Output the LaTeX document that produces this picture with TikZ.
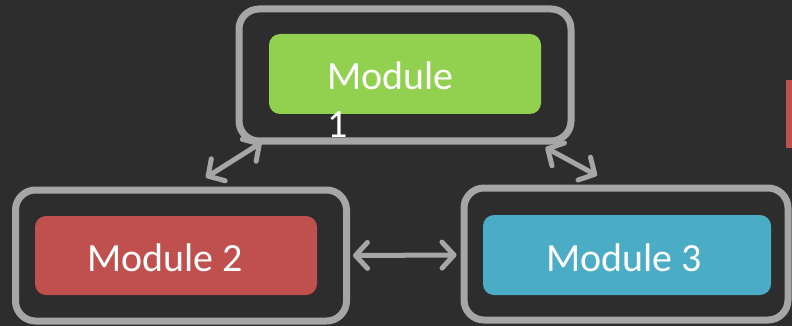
\documentclass[tikz,border=0pt]{standalone}
\usepackage{fontspec}
\setmainfont{Carlito}
\usetikzlibrary{arrows.meta}
\definecolor{board}{HTML}{2D2D2D}
\definecolor{frame}{HTML}{A6A6A6}
\definecolor{mgreen}{HTML}{92D050}
\definecolor{mred}{HTML}{C0504D}
\definecolor{mblue}{HTML}{4BACC6}
\tikzset{
  framebox/.style={draw=frame, line width=7pt, rounded corners=20pt, inner sep=0pt},
  modbox/.style={rounded corners=11pt, inner sep=0pt},
  modtext/.style={text=white, inner sep=0pt, anchor=base west, font=\fontsize{40}{47}\selectfont},
  barb/.tip={Straight Barb[length=12pt,width=26pt,round,line width=5pt]},
  link/.style={draw=frame, line width=5pt, line cap=round, barb-barb}
}
\begin{document}
\begin{tikzpicture}[x=1pt,y=-1pt]
  % chalkboard
  \fill[board] (0,0) rectangle (792,326);
  \useasboundingbox (0,0) rectangle (792,326);

  % outer frames
  \node[framebox, minimum width=332pt, minimum height=132pt] (f1) at (405,75) {};
  \node[framebox, minimum width=331pt, minimum height=131pt] (f2) at (181,255.5) {};
  \node[framebox, minimum width=324pt, minimum height=132pt] (f3) at (626,254) {};

  % module boxes
  \node[modbox, fill=mgreen, minimum width=272pt, minimum height=80pt] (m1) at (405,74) {};
  \node[modbox, fill=mred, minimum width=282pt, minimum height=79pt] (m2) at (176,255.5) {};
  \node[modbox, fill=mblue, minimum width=288pt, minimum height=80pt] (m3) at (627,255) {};

  % labels
  \node[modtext] (t1a) at (327,90) {Module};
  \node[modtext] (t1b) at (327,137) {1};
  \node[modtext] (t2) at (87,271) {Module 2};
  \node[modtext] (t3) at (546,271) {Module 3};

  % partial box at the right edge
  \node[fill=mred, inner sep=0pt, minimum width=8pt, minimum height=67pt] (edge) at (790,114) {};

  % links between modules
  \draw[link] ([xshift=26pt,yshift=2pt]f1.south west) -- ([xshift=25pt,yshift=9pt]f2.north);
  \draw[link] ([xshift=-29pt,yshift=-3pt]f1.south east) -- ([xshift=-29pt,yshift=9pt]f3.north);
  \draw[link] ([xshift=3pt]f2.east) -- ([xshift=-4pt,yshift=-1pt]f3.west);
\end{tikzpicture}
\end{document}
